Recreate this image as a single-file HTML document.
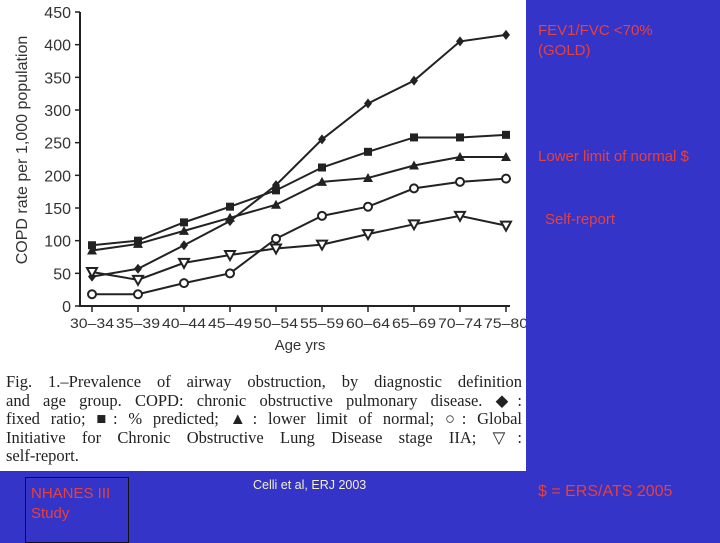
<!DOCTYPE html>
<html><head><meta charset="utf-8"><style>
body{margin:0;width:720px;height:540px;background:#3434c8;position:relative;overflow:hidden;font-family:"Liberation Sans",sans-serif}
.t{position:absolute;color:#e8403a;font-size:15px;white-space:nowrap}
#white{position:absolute;left:0;top:0;width:526px;height:471px;background:#fff}
#cap{position:absolute;left:6px;top:373px;width:516px;font-family:"Liberation Serif",serif;font-size:16.5px;line-height:18.5px;color:#222}
#cap div{text-align:justify;text-align-last:justify;white-space:nowrap;word-spacing:0}
#cap div.last{text-align-last:left}
</style></head><body>
<div id="white"></div>
<svg id="chart" width="526" height="370" style="position:absolute;left:0;top:0"></svg>
<div id="cap">
<div style="white-space:normal">Fig. 1.–Prevalence of airway obstruction, by diagnostic definition</div>
<div style="white-space:normal">and age group. COPD: chronic obstructive pulmonary disease. ◆:</div>
<div style="white-space:normal">fixed ratio; ■: % predicted; ▲: lower limit of normal; ○: Global</div>
<div style="white-space:normal">Initiative for Chronic Obstructive Lung Disease stage IIA; ▽:</div>
<div class="last">self-report.</div>
</div>
<div class="t" style="left:538px;top:21px;line-height:20px">FEV1/FVC &lt;70%<br>(GOLD)</div>
<div class="t" style="left:538px;top:148px">Lower limit of normal $</div>
<div class="t" style="left:545px;top:211px">Self-report</div>
<div class="t" style="left:25px;top:477px;width:104px;height:66px;border:1px solid #111;padding:6px 0 0 5px;box-sizing:border-box;line-height:20px">NHANES III<br>Study</div>
<div class="t" style="left:253px;top:478px;color:#f4f0c8;font-size:12.5px">Celli et al, ERJ 2003</div>
<div class="t" style="left:538px;top:483px;font-size:16px">$ = ERS/ATS 2005</div>
<script>
const categories=["30–34","35–39","40–44","45–49","50–54","55–59","60–64","65–69","70–74","75–80"];
const fixedRatio=[45,57,93,130,185,255,310,345,405,415];
const pctPredicted=[93,100,128,152,177,212,236,258,258,262];
const lowerLimit=[85,95,115,135,155,190,196,215,228,228];
const goldIIA=[18,18,35,50,103,138,152,180,190,195];
const selfReport=[52,40,66,78,88,94,110,125,138,123];
const yTicks=[0,50,100,150,200,250,300,350,400,450];
const NS="http://www.w3.org/2000/svg",svg=document.getElementById('chart');
const x0=92,dx=46,yb=306,yt=12;
const X=i=>x0+i*dx, Y=v=>yb-(v/450)*(yb-yt);
function mk(t,a){const e=document.createElementNS(NS,t);for(const k in a)e.setAttribute(k,a[k]);svg.appendChild(e);return e;}
const ax=mk('path',{d:`M80,${yt}V${yb}H510`,stroke:'#222','stroke-width':2,fill:'none'});


yTicks.forEach(v=>{const l=mk('line',{x1:75,x2:80,y1:Y(v),y2:Y(v),stroke:'#222','stroke-width':1.5});


const t=mk('text',{x:71,y:Y(v)+6,'text-anchor':'end','font-size':16,fill:'#333','font-family':'Liberation Sans Narrow, Liberation Sans, sans-serif'});t.textContent=v;

});
categories.forEach((c,i)=>{const l=mk('line',{x1:X(i),x2:X(i),y1:yb,y2:yb+6,stroke:'#222','stroke-width':1.5});


const t=mk('text',{x:X(i),y:328,'text-anchor':'middle','font-size':14,fill:'#333','textLength':44,'lengthAdjust':'spacingAndGlyphs'});t.textContent=c;

});
const xt=mk('text',{x:300,y:350,'text-anchor':'middle','font-size':15,fill:'#333'});xt.textContent='Age    yrs';


const yl=mk('text',{x:0,y:0,'text-anchor':'middle','font-size':16,fill:'#333',transform:'translate(27,150) rotate(-90)'});yl.textContent='COPD rate per 1,000 population';


function marker(kind,x,y){let e;
if(kind==='d')e=mk('path',{d:`M${x},${y-5}L${x+4},${y}L${x},${y+5}L${x-4},${y}Z`,fill:'#222'});
if(kind==='s')e=mk('rect',{x:x-4,y:y-4,width:8,height:8,fill:'#222'});
if(kind==='t')e=mk('path',{d:`M${x},${y-5}L${x+5},${y+4}L${x-5},${y+4}Z`,fill:'#222'});
if(kind==='c')e=mk('circle',{cx:x,cy:y,r:4,fill:'#fff',stroke:'#222','stroke-width':2});
if(kind==='v')e=mk('path',{d:`M${x-5},${y-4}L${x+5},${y-4}L${x},${y+5}Z`,fill:'#fff',stroke:'#222','stroke-width':2});

}
[[fixedRatio,'d','series-fixed-ratio'],[pctPredicted,'s','series-pct-predicted'],[lowerLimit,'t','series-lower-limit'],[goldIIA,'c','series-gold-iia'],[selfReport,'v','series-self-report']].forEach(([vals,k,n])=>{
const p=mk('polyline',{points:vals.map((v,i)=>X(i)+','+Y(v)).join(' '),fill:'none',stroke:'#222','stroke-width':2});


vals.forEach((v,i)=>marker(k,X(i),Y(v)));});
</script>
</body></html>
